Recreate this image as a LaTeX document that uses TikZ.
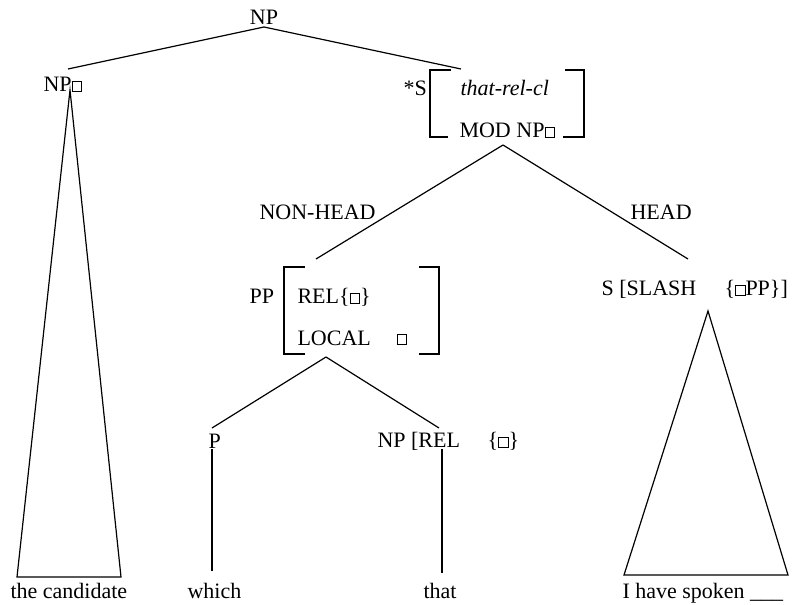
\documentclass[tikz,border=0pt]{standalone}
\usepackage{fontspec}
\setmainfont{Liberation Serif}
\usetikzlibrary{positioning}
% small empty box used as a tag in the feature structures
\newcommand{\bx}{{\fboxsep=0pt\fboxrule=0.7pt\fbox{\rule{0pt}{9pt}\hspace{9pt}}}}
\tikzset{
  every picture/.style={line width=1.1pt},
  lbl/.style={anchor=base west, inner sep=0pt, font=\fontsize{22}{26}\selectfont},
  edge/.style={line width=1.2pt},
  brack/.style={line width=1.1pt},
}

\begin{document}
\begin{tikzpicture}[x=1pt, y=-1pt]
  \useasboundingbox (0,0) rectangle (793,605);

  % labels of the tree
  \node[lbl, anchor=base] (np) at (264,24) {NP};
  \node[lbl] (npbox) at (43,91) {NP\bx};
  \node[lbl] (star) at (403,95) {*S};
  \node[lbl] (relcl) at (460,95) {\textit{that-rel-cl}};
  \node[lbl] (mod) at (459,137) {MOD NP\bx};
  \node[lbl] (nonhead) at (259,219) {NON-HEAD};
  \node[lbl] (head) at (630,219) {HEAD};
  \node[lbl] (pp) at (249,303) {PP};
  \node[lbl] (rel) at (297,303) {REL\{\bx\}};
  \node[lbl] (local) at (297,345) {LOCAL};
  \node[lbl] (localbox) at (396,344) {\bx};
  \node[lbl] (slash) at (601,295) {S [SLASH};
  \node[lbl] (slashset) at (724,295) {\{\bx PP\}]};
  \node[lbl] (p) at (208,448) {P};
  \node[lbl] (nprel) at (377,447) {NP [REL};
  \node[lbl] (relset) at (487,447) {\{\bx\}};

  % words
  \node[lbl] (cand) at (10,598) {the candidate};
  \node[lbl] (which) at (187,598) {which};
  \node[lbl] (that) at (423,598) {that};
  \node[lbl] (spoken) at (622,598) {I have spoken \_\_\_};

  % brackets round the feature structures
  \draw[brack] (451,70) -- (430,70) -- (430,137) -- (448,137);
  \draw[brack] (565,70) -- (584,70) -- (584,137) -- (563,137);
  \draw[brack] (305,267) -- (284,267) -- (284,354) -- (305,354);
  \draw[brack] (419,267) -- (439,267) -- (439,354) -- (419,354);

  % joints of the tree
  \coordinate (npfoot) at (264,27);
  \coordinate (nptop) at (68,69);
  \coordinate (stop) at (461,69);
  \coordinate (sfoot) at (503,145);
  \coordinate (pptop) at (316,259);
  \coordinate (slashtop) at (688,259);
  \coordinate (ppfoot) at (326,357);
  \coordinate (ptop) at (212,428);
  \coordinate (nptop2) at (439,428);
  \coordinate (pfoot) at (212,449);
  \coordinate (pend) at (212,571);
  \coordinate (nrfoot) at (442,449);
  \coordinate (nrend) at (442,573);

  \draw[edge] (npfoot) -- (nptop);
  \draw[edge] (npfoot) -- (stop);
  \draw[edge] (sfoot) -- (pptop);
  \draw[edge] (sfoot) -- (slashtop);
  \draw[edge] (ppfoot) -- (ptop);
  \draw[edge] (ppfoot) -- (nptop2);
  \draw[edge] (pfoot) -- (pend);
  \draw[edge] (nrfoot) -- (nrend);

  % triangles over the unanalysed phrases
  \draw[edge] (70,90) -- (17,577) -- (121,577) -- cycle;
  \draw[edge] (708,311) -- (624,575) -- (788,575) -- cycle;
\end{tikzpicture}
\end{document}
